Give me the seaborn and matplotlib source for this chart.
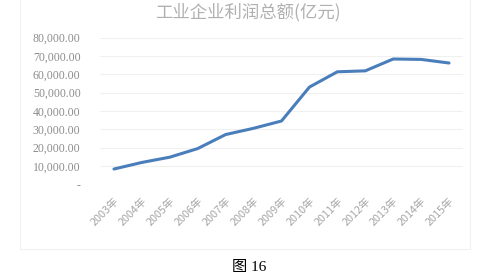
import matplotlib
matplotlib.use("Agg")
import matplotlib.pyplot as plt
import seaborn as sns
import pandas as pd
from matplotlib.patches import Rectangle

years = ["2003年", "2004年", "2005年", "2006年", "2007年", "2008年", "2009年",
         "2010年", "2011年", "2012年", "2013年", "2014年", "2015年"]
profits = [8337, 11929, 14803, 19504, 27155, 30562, 34542,
           53050, 61396, 61910, 68379, 68155, 66187]
yticks = [0, 10000, 20000, 30000, 40000, 50000, 60000, 70000, 80000]
ytick_labels = ["-", "10,000.00", "20,000.00", "30,000.00", "40,000.00",
                "50,000.00", "60,000.00", "70,000.00", "80,000.00"]
title = "工业企业利润总额(亿元)"
caption = "图 16"

sns.set_theme(style="white")
plt.rcParams['font.family'] = ['Noto Sans CJK SC', 'DejaVu Sans']

df = pd.DataFrame({"year": years, "profit": profits})

fig = plt.figure(figsize=(4.82, 2.78), dpi=100)
W, H = 482, 278
ax = fig.add_axes([100 / W, 1 - 184.3 / H, 363 / W, (184.3 - 37.7) / H])

sns.lineplot(data=df, x="year", y="profit", ax=ax, color="#4a7ebb",
             linewidth=2.2, sort=False)
ax.set_xlim(-0.5, len(years) - 0.5)
ax.set_ylim(0, 80000)
ax.set_yticks(yticks)
ax.set_yticklabels(ytick_labels, fontfamily="Liberation Serif", fontsize=8.5,
                   color="#8c8c8c")
ax.tick_params(axis="y", length=0, pad=14)
ax.set_xticks(range(len(years)))
ax.set_xticklabels(years, rotation=45, ha="right", rotation_mode="anchor",
                   fontsize=7.8, color="#a6a6a6")
ax.tick_params(axis="x", length=0, pad=8)
ax.set_xlabel("")
ax.set_ylabel("")
ax.grid(axis="y", color="#f0f0f0", linewidth=0.8)
ax.set_axisbelow(True)
for s in ax.spines.values():
    s.set_visible(False)

# chart area border
fig.patches.append(Rectangle((19.5 / W, 1 - 248.5 / H), (470 - 19.5) / W,
                             248.5 / H + 0.01, transform=fig.transFigure,
                             fill=False, edgecolor="#f0f0f0", linewidth=0.8))

fig.text(248 / W, 1 - 12 / H, title, ha="center", va="center", fontsize=12.5,
         color="#b0b0b0")
fig.text(249 / W, 1 - 267 / H, caption, ha="center", va="center", fontsize=11,
         color="#000000", family=["Liberation Serif", "Noto Sans CJK SC"])

fig.savefig("out.png", dpi=100, facecolor="white")
